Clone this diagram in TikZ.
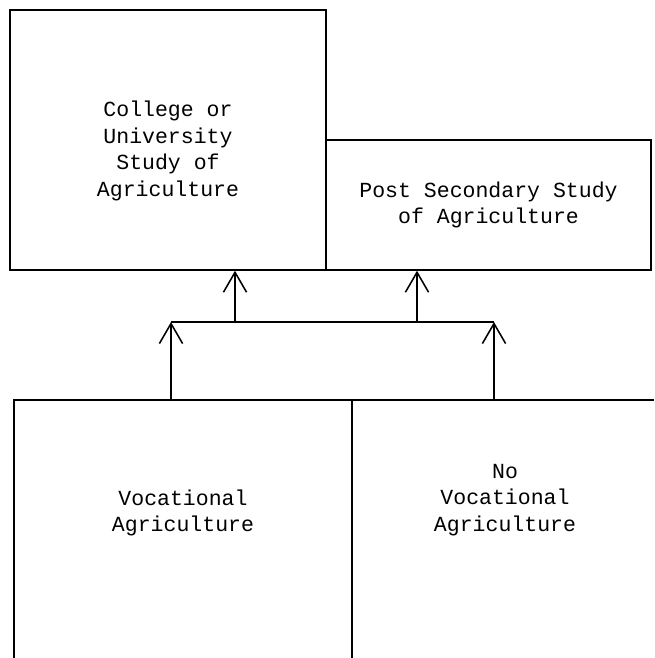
\documentclass[tikz,border=0pt]{standalone}
\usepackage{fontspec}
\setmonofont{Liberation Mono}
\usetikzlibrary{arrows.meta}
\tikzset{
  box/.style={draw, line width=1pt, inner sep=0pt, align=center},
  label/.style={align=center, font=\ttfamily\fontsize{15.3}{18.8}\selectfont},
  arr/.style={line width=1pt, -{Straight Barb[length=0.5cm, width=0.58cm, line width=1.1pt]}},
  wall/.style={line width=1pt}
}

\begin{document}
\begin{tikzpicture}[x=0.025cm, y=-0.025cm]
			%%%%% START %%%%%
			\useasboundingbox (0, 0) rectangle (654, 658);
			
			% upper boxes
			\node[box, minimum width=7.9cm, minimum height=6.5cm] (college) at (168, 140) {};
			\node[label] (collegeText) at (168, 151) {College or\\University\\Study of\\Agriculture};
			\node[box, label, minimum width=8.125cm, minimum height=3.25cm] (post) at (488.5, 205) {Post Secondary Study\\of Agriculture};
			
			% lower boxes, open at bottom and right
			\draw[wall] (14, 658) -- (14, 400) -- (654, 400);
			\draw[wall] (352, 400) -- (352, 658);
			\node[label] (voc) at (183, 513) {Vocational\\Agriculture};
			\node[label] (novoc) at (505, 500) {No\\Vocational\\Agriculture};
			
			% junction bar
			\coordinate (vocTop) at (171, 400);
			\coordinate (novocTop) at (494, 400);
			\coordinate (barL) at (171, 322);
			\coordinate (barR) at (494, 322);
			\coordinate (upA) at (235, 322);
			\coordinate (upB) at (417, 322);
			
			\draw[arr] (vocTop) -- (barL);
			\draw[arr] (novocTop) -- (barR);
			\draw[wall] (barL) -- (barR);
			\draw[arr] (upA) -- (upA |- college.south);
			\draw[arr] (upB) -- (upB |- post.south);
			
			%%%%% END %%%%%
\end{tikzpicture}
\end{document}
